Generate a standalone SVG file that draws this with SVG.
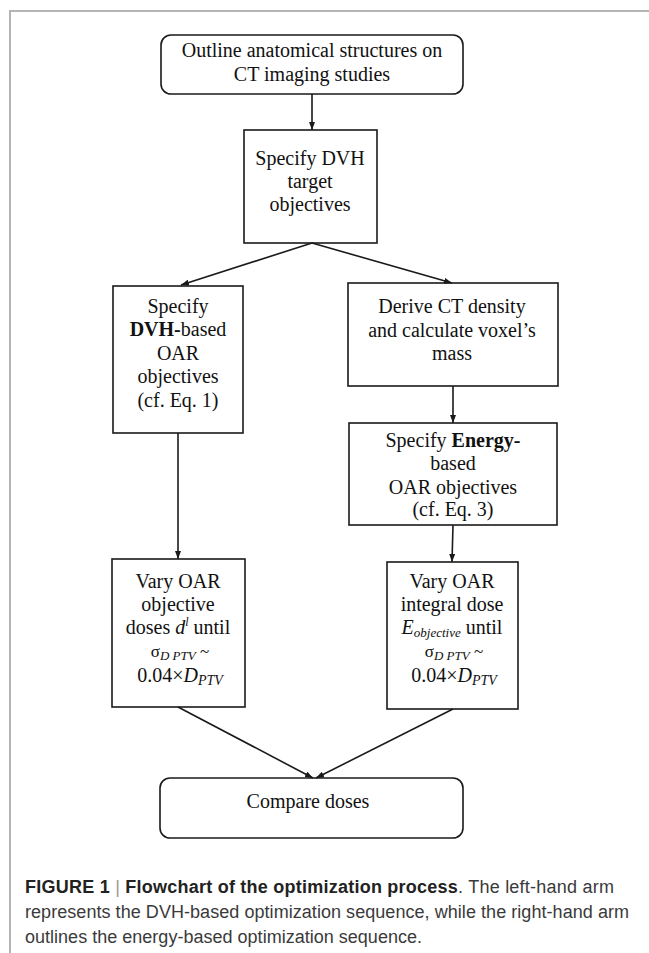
<svg xmlns="http://www.w3.org/2000/svg" width="649" height="953" viewBox="0 0 649 953">
<style>
.box{fill:#fff;stroke:#1a1a1a;stroke-width:1.6}
.t{font-family:"Liberation Serif","Times New Roman",serif;font-size:20px;fill:#111;text-anchor:middle}
.cap{font-family:"Liberation Sans",Arial,sans-serif;font-size:18px;fill:#3a3a3a}
.conn line{stroke:#1a1a1a;stroke-width:1.6;marker-end:url(#ah)}
.frame{stroke:#b4b4b4;stroke-width:2;fill:none}
</style>
<defs>
<marker id="ah" markerUnits="userSpaceOnUse" markerWidth="8" markerHeight="6" refX="8" refY="3" orient="auto">
<path d="M0,0 L8,3 L0,6 z" fill="#1a1a1a"/>
</marker>
</defs>
<rect width="649" height="953" fill="#fff"/>
<path class="frame" d="M10,953 L10,11 L649,11"/>

<g id="n1">
<rect class="box" x="161" y="35" width="302" height="59" rx="10"/>
<text class="t" x="312" y="57" font-size="20.5">Outline anatomical structures on</text>
<text class="t" x="312" y="81" font-size="20.5">CT imaging studies</text>
</g>

<g id="n2">
<rect class="box" x="244" y="130" width="133" height="113"/>
<text class="t" x="310" y="165">Specify DVH</text>
<text class="t" x="310" y="188">target</text>
<text class="t" x="310" y="211">objectives</text>
</g>

<g id="n3">
<rect class="box" x="113" y="286" width="130" height="147"/>
<text class="t" x="178" y="313">Specify</text>
<text class="t" x="178" y="336"><tspan font-weight="bold">DVH-</tspan>based</text>
<text class="t" x="178" y="360">OAR</text>
<text class="t" x="178" y="383">objectives</text>
<text class="t" x="178" y="407">(cf. Eq. 1)</text>
</g>

<g id="n4">
<rect class="box" x="348" y="283" width="210" height="103"/>
<text class="t" x="452" y="313">Derive CT density</text>
<text class="t" x="452" y="337">and calculate voxel’s</text>
<text class="t" x="452" y="360">mass</text>
</g>

<g id="n5">
<rect class="box" x="349" y="423" width="208" height="102"/>
<text class="t" x="453" y="447">Specify <tspan font-weight="bold">Energy-</tspan></text>
<text class="t" x="453" y="470">based</text>
<text class="t" x="453" y="494">OAR objectives</text>
<text class="t" x="453" y="516">(cf. Eq. 3)</text>
</g>

<g id="n6">
<rect class="box" x="112" y="559" width="133" height="148"/>
<text class="t" x="178" y="588">Vary OAR</text>
<text class="t" x="178" y="611">objective</text>
<text class="t" x="178" y="634">doses <tspan font-style="italic">d</tspan><tspan font-style="italic" font-size="12" dy="-8">l</tspan><tspan dy="8"> until</tspan></text>
<text class="t" x="180" y="657"><tspan font-size="17">σ</tspan><tspan font-style="italic" font-size="13" dy="3">D PTV</tspan><tspan font-size="17" dy="-3"> ~</tspan></text>
<text class="t" x="180" y="682">0.04×<tspan font-style="italic">D</tspan><tspan font-style="italic" font-size="14" dy="3">PTV</tspan></text>
</g>

<g id="n7">
<rect class="box" x="387" y="562" width="131" height="147"/>
<text class="t" x="452" y="588">Vary OAR</text>
<text class="t" x="452" y="611">integral dose</text>
<text class="t" x="452" y="634"><tspan font-style="italic">E</tspan><tspan font-style="italic" font-size="13" dy="3">objective</tspan><tspan dy="-3"> until</tspan></text>
<text class="t" x="454" y="657"><tspan font-size="17">σ</tspan><tspan font-style="italic" font-size="13" dy="3">D PTV</tspan><tspan font-size="17" dy="-3"> ~</tspan></text>
<text class="t" x="454" y="682">0.04×<tspan font-style="italic">D</tspan><tspan font-style="italic" font-size="14" dy="3">PTV</tspan></text>
</g>

<g id="n8">
<rect class="box" x="160" y="778" width="303" height="60" rx="10"/>
<text class="t" x="308" y="808" font-size="21">Compare doses</text>
</g>

<g id="connectors" class="conn">
<line x1="312" y1="94" x2="312" y2="130"/>
<line x1="312" y1="243" x2="181" y2="285"/>
<line x1="312" y1="243" x2="452" y2="283"/>
<line x1="178" y1="433" x2="178" y2="559"/>
<line x1="453" y1="386" x2="453" y2="423"/>
<line x1="453" y1="525" x2="452" y2="562"/>
<line x1="178" y1="707" x2="313" y2="778"/>
<line x1="453" y1="709" x2="316" y2="778"/>
</g>

<g id="caption">
<text class="cap" x="25" y="893" textLength="589"><tspan font-weight="bold" fill="#222">FIGURE 1</tspan><tspan fill="#999"> | </tspan><tspan font-weight="bold" fill="#222">Flowchart of the optimization process</tspan>. The left-hand arm</text>
<text class="cap" x="25" y="918" textLength="604">represents the DVH-based optimization sequence, while the right-hand arm</text>
<text class="cap" x="25" y="943" textLength="397">outlines the energy-based optimization sequence.</text>
</g>
</svg>
